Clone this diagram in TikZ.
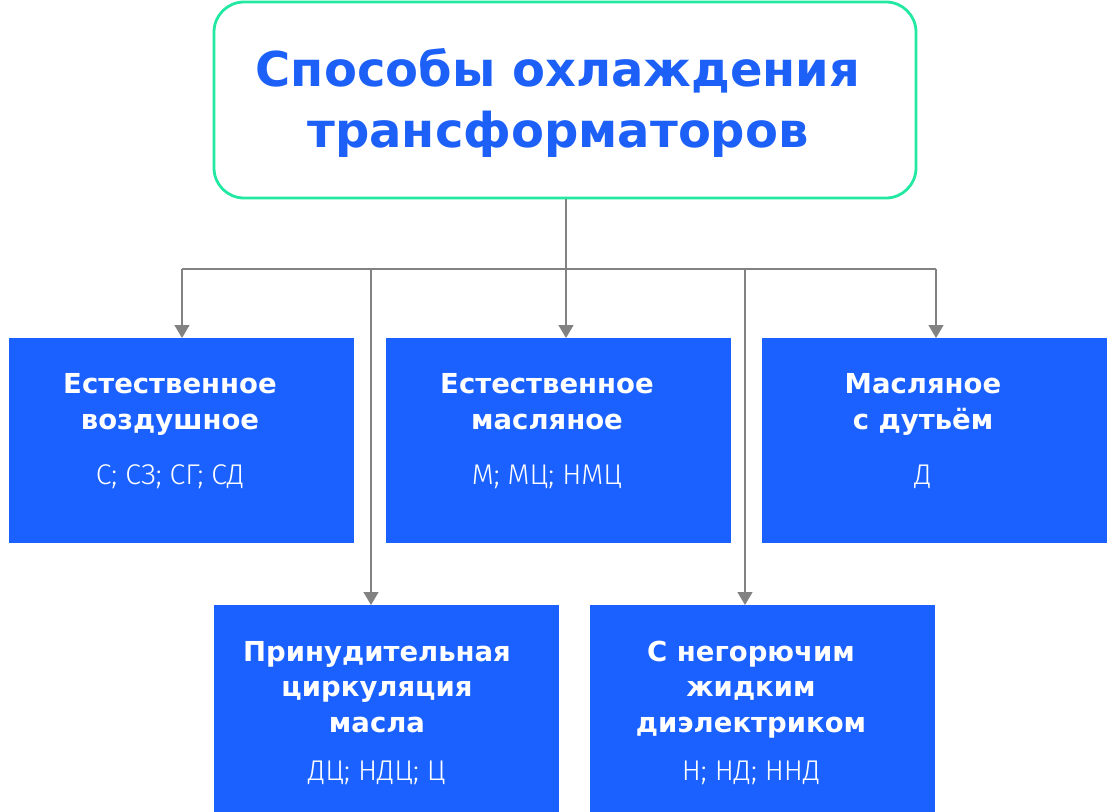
\documentclass[tikz,border=0pt]{standalone}
\usepackage{fontspec}
\setmainfont{DejaVu Sans}
\newfontfamily\codefont{Fira Sans Light}
\usetikzlibrary{arrows.meta}
\definecolor{boxblue}{HTML}{1A61FF}
\definecolor{titleblue}{HTML}{1D60F8}
\definecolor{mint}{HTML}{22E8A2}
\definecolor{connc}{HTML}{828282}
\begin{document}
\begin{tikzpicture}[x=1pt,y=-1pt,
  box/.style={fill=boxblue, draw=none, inner sep=0pt, minimum width=345pt, minimum height=205pt, anchor=north west},
  head/.style={text=white, font=\bfseries\fontsize{27.5}{35.5}\selectfont, align=center, anchor=base, inner sep=0pt},
  codetxt/.style={text=white, font=\codefont\fontsize{28.5}{30}\selectfont, anchor=base, inner sep=0pt},
  conn/.style={draw=connc, line width=1.3pt},
  arr/.style={conn, -{Triangle[width=15pt,length=13pt]}}
]
\useasboundingbox (0,0) rectangle (1116,811);
% top box
\node[draw=mint, line width=2.8pt, rounded corners=30pt, minimum width=702pt, minimum height=196pt, inner sep=0pt] (top) at (565,100) {};
\node[text=titleblue, font=\bfseries\fontsize{48}{61}\selectfont, align=center, anchor=base, inner sep=0pt] (title) at (558,147) {Способы охлаждения\\трансформаторов};
% boxes
\node[box] (b1) at (9,338) {};
\node[box] (b2) at (386,338) {};
\node[box] (b3) at (762,338) {};
\node[box, minimum height=215pt] (b4) at (214,605) {};
\node[box, minimum height=215pt] (b5) at (590,605) {};
% texts
\node[head] (b1h) at (170,429) {Естественное\\воздушное};
\node[codetxt] (b1c) at (170,484) {С; СЗ; СГ; СД};
\node[head] (b2h) at (547,429) {Естественное\\масляное};
\node[codetxt] (b2c) at (547,484) {М; МЦ; НМЦ};
\node[head] (b3h) at (923,429) {Масляное\\с дутьём};
\node[codetxt] (b3c) at (923,484) {Д};
\node[head] (b4h) at (377,732) {Принудительная\\циркуляция\\масла};
\node[codetxt] (b4c) at (377,780) {ДЦ; НДЦ; Ц};
\node[head] (b5h) at (751,732) {С негорючим\\жидким\\диэлектриком};
\node[codetxt] (b5c) at (751,780) {Н; НД; ННД};
% connectors
\coordinate (hub) at (566,269);
\coordinate (jl) at (182,269);
\coordinate (jr) at (936,269);
\coordinate (j4) at (371,269);
\coordinate (j5) at (745,269);
\draw[conn] (top.south -| hub) -- (hub);
\draw[conn] (jl) -- (jr);
\draw[arr] (jl) -- (jl |- b1.north);
\draw[arr] (hub) -- (hub |- b2.north);
\draw[arr] (jr) -- (jr |- b3.north);
\draw[arr] (j4) -- (j4 |- b4.north);
\draw[arr] (j5) -- (j5 |- b5.north);
\end{tikzpicture}
\end{document}
